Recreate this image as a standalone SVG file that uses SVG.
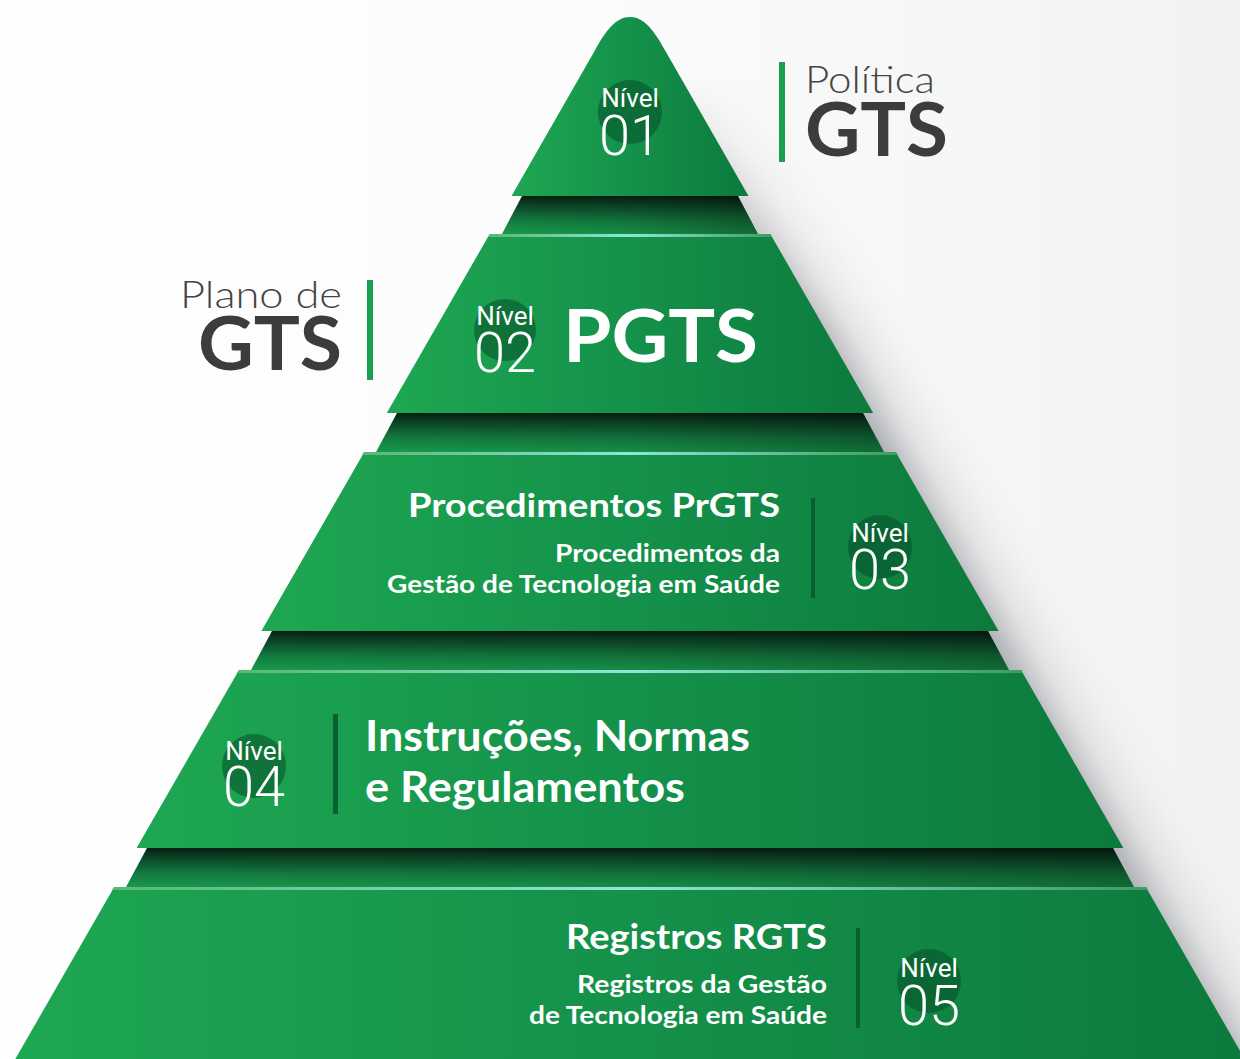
<svg xmlns="http://www.w3.org/2000/svg" width="1240" height="1059" viewBox="0 0 1240 1059">
  <defs>
    <linearGradient id="bg" x1="0" y1="0" x2="1" y2="0">
      <stop offset="0" stop-color="#ffffff"/>
      <stop offset="0.45" stop-color="#fcfcfc"/>
      <stop offset="1" stop-color="#f1f2f2"/>
    </linearGradient>
    <linearGradient id="shadow" gradientUnits="userSpaceOnUse" x1="909.25" y1="500" x2="987.3" y2="455.2">
      <stop offset="0" stop-color="#a6a7ab" stop-opacity="0.9"/>
      <stop offset="0.14" stop-color="#b3b4b8" stop-opacity="0.8"/>
      <stop offset="0.4" stop-color="#d2d3d5" stop-opacity="0.55"/>
      <stop offset="1" stop-color="#f2f3f3" stop-opacity="0"/>
    </linearGradient>
    <linearGradient id="shfade" gradientUnits="userSpaceOnUse" x1="0" y1="70" x2="0" y2="330">
      <stop offset="0" stop-color="#000000"/>
      <stop offset="1" stop-color="#ffffff"/>
    </linearGradient>
    <mask id="shm" maskUnits="userSpaceOnUse" x="0" y="0" width="1240" height="1059">
      <rect x="0" y="0" width="1240" height="1059" fill="url(#shfade)"/>
    </mask>
    <linearGradient id="layer" x1="0" y1="0" x2="1" y2="0">
      <stop offset="0" stop-color="#1ea752"/>
      <stop offset="0.5" stop-color="#14914a"/>
      <stop offset="1" stop-color="#0c7a3d"/>
    </linearGradient>
    <linearGradient id="bandV" x1="0" y1="0" x2="0" y2="1">
      <stop offset="0" stop-color="#061f10"/>
      <stop offset="0.2" stop-color="#0b3d22"/>
      <stop offset="0.65" stop-color="#137b40"/>
      <stop offset="1" stop-color="#18994c"/>
    </linearGradient>
    <linearGradient id="bandH" x1="0" y1="0" x2="1" y2="0">
      <stop offset="0" stop-color="#000" stop-opacity="0"/>
      <stop offset="0.5" stop-color="#000" stop-opacity="0.08"/>
      <stop offset="1" stop-color="#000" stop-opacity="0.3"/>
    </linearGradient>
    <linearGradient id="hl" x1="0" y1="0" x2="1" y2="0">
      <stop offset="0" stop-color="#5ab776"/>
      <stop offset="0.5" stop-color="#8fe6d8"/>
      <stop offset="1" stop-color="#3f9c62"/>
    </linearGradient>
    <style>
      .layer { fill: url(#layer); }
      .band { fill: url(#bandV); }
      .bandShade { fill: url(#bandH); }
      .hl { fill: url(#hl); }
      .circ { fill: #064f28; fill-opacity: 0.55; }
      .nivel { font-family: Roboto, "Liberation Sans", sans-serif; font-size: 26px; fill: #ffffff; text-anchor: middle; }
      .num { font-family: Roboto, "Liberation Sans", sans-serif; font-weight: 300; font-size: 56px; fill: #ffffff; text-anchor: middle; }
      .thin { font-family: Lato, "Open Sans", "Liberation Sans", sans-serif; font-weight: 300; font-size: 38px; fill: #454545; }
      .grayBold { font-family: Lato, "Liberation Sans", sans-serif; font-weight: 700; font-size: 74px; fill: #3c3c3c; }
      .wb { font-family: Lato, "Liberation Sans", sans-serif; font-weight: 700; fill: #ffffff; }
      .barG { fill: #1a9f4e; }
      .barD { fill: #0b5e31; }
    </style>
  </defs>

  <rect x="0" y="0" width="1240" height="1059" fill="url(#bg)"/>
  <polygon points="633.25,20 1230.7,1059 1360,1059 763.25,20" fill="url(#shadow)" mask="url(#shm)"/>

  <g id="bands">
    <polygon class="band" points="522,196 738,196 758,234 502,234"/>
    <polygon class="bandShade" points="522,196 738,196 758,234 502,234"/>
    <polygon class="band" points="397,413 863,413 884,452 376,452"/>
    <polygon class="bandShade" points="397,413 863,413 884,452 376,452"/>
    <polygon class="band" points="272,631 988,631 1009,670 251,670"/>
    <polygon class="bandShade" points="272,631 988,631 1009,670 251,670"/>
    <polygon class="band" points="147,848 1113,848 1134,887 126,887"/>
    <polygon class="bandShade" points="147,848 1113,848 1134,887 126,887"/>
  </g>

  <g id="nivel01">
    <path class="layer" d="M 511.5,196 L 594,52 C 606,30 616,17 630,17 C 644,17 654,30 666,52 L 748.5,196 Z"/>
    <circle class="circ" cx="630" cy="112" r="32"/>
    <text class="nivel" x="630" y="107">Nível</text>
    <text class="num" x="630" y="155">01</text>
  </g>

  <g id="politica">
    <rect class="barG" x="779" y="62" width="6" height="100"/>
    <text class="thin" x="805" y="93" textLength="130" lengthAdjust="spacingAndGlyphs">Política</text>
    <text class="grayBold" x="805" y="156" textLength="143" lengthAdjust="spacingAndGlyphs">GTS</text>
  </g>

  <g id="nivel02">
    <polygon class="layer" points="489.7,234 770.3,234 873.2,413 386.8,413"/>
    <polygon class="hl" points="490,234 770,234 772,237 488,237"/>
    <circle class="circ" cx="505" cy="330" r="31"/>
    <text class="nivel" x="505" y="325">Nível</text>
    <text class="num" x="505" y="372">02</text>
    <text class="wb" x="563" y="362" font-size="72" textLength="195" lengthAdjust="spacingAndGlyphs">PGTS</text>
  </g>

  <g id="plano">
    <rect class="barG" x="367" y="280" width="6" height="100"/>
    <text class="thin" x="342" y="308" text-anchor="end" textLength="162" lengthAdjust="spacingAndGlyphs">Plano de</text>
    <text class="grayBold" x="342" y="370" text-anchor="end" textLength="144" lengthAdjust="spacingAndGlyphs">GTS</text>
  </g>

  <g id="nivel03">
    <polygon class="layer" points="364.3,452 895.7,452 998.6,631 261.4,631"/>
    <polygon class="hl" points="364,452 896,452 898,455 362,455"/>
    <text class="wb" x="780" y="517" font-size="33" text-anchor="end" textLength="372" lengthAdjust="spacingAndGlyphs">Procedimentos PrGTS</text>
    <text class="wb" x="780" y="562" font-size="24" text-anchor="end" textLength="225" lengthAdjust="spacingAndGlyphs">Procedimentos da</text>
    <text class="wb" x="780" y="593" font-size="24" text-anchor="end" textLength="393" lengthAdjust="spacingAndGlyphs">Gestão de Tecnologia em Saúde</text>
    <rect class="barD" x="811" y="498" width="4" height="100"/>
    <circle class="circ" cx="880" cy="547" r="32"/>
    <text class="nivel" x="880" y="542">Nível</text>
    <text class="num" x="880" y="589">03</text>
  </g>

  <g id="nivel04">
    <polygon class="layer" points="239,670 1021,670 1123.4,848 136.6,848"/>
    <polygon class="hl" points="239,670 1021,670 1023,673 237,673"/>
    <circle class="circ" cx="254" cy="766" r="32"/>
    <text class="nivel" x="254" y="760">Nível</text>
    <text class="num" x="254" y="806">04</text>
    <rect class="barD" x="333" y="714" width="5" height="100"/>
    <text class="wb" x="365" y="751" font-size="42" textLength="385" lengthAdjust="spacingAndGlyphs">Instruções, Normas</text>
    <text class="wb" x="365" y="802" font-size="42" textLength="320" lengthAdjust="spacingAndGlyphs">e Regulamentos</text>
  </g>

  <g id="nivel05">
    <polygon class="layer" points="114.2,887 1145.8,887 1244.7,1059 15.3,1059"/>
    <polygon class="hl" points="114,887 1146,887 1148,890 112,890"/>
    <text class="wb" x="827" y="949" font-size="34" text-anchor="end" textLength="261" lengthAdjust="spacingAndGlyphs">Registros RGTS</text>
    <text class="wb" x="827" y="993" font-size="25" text-anchor="end" textLength="250" lengthAdjust="spacingAndGlyphs">Registros da Gestão</text>
    <text class="wb" x="827" y="1024" font-size="25" text-anchor="end" textLength="298" lengthAdjust="spacingAndGlyphs">de Tecnologia em Saúde</text>
    <rect class="barD" x="856" y="928" width="4" height="100"/>
    <circle class="circ" cx="929" cy="981" r="32"/>
    <text class="nivel" x="929" y="977">Nível</text>
    <text class="num" x="929" y="1025">05</text>
  </g>
</svg>
